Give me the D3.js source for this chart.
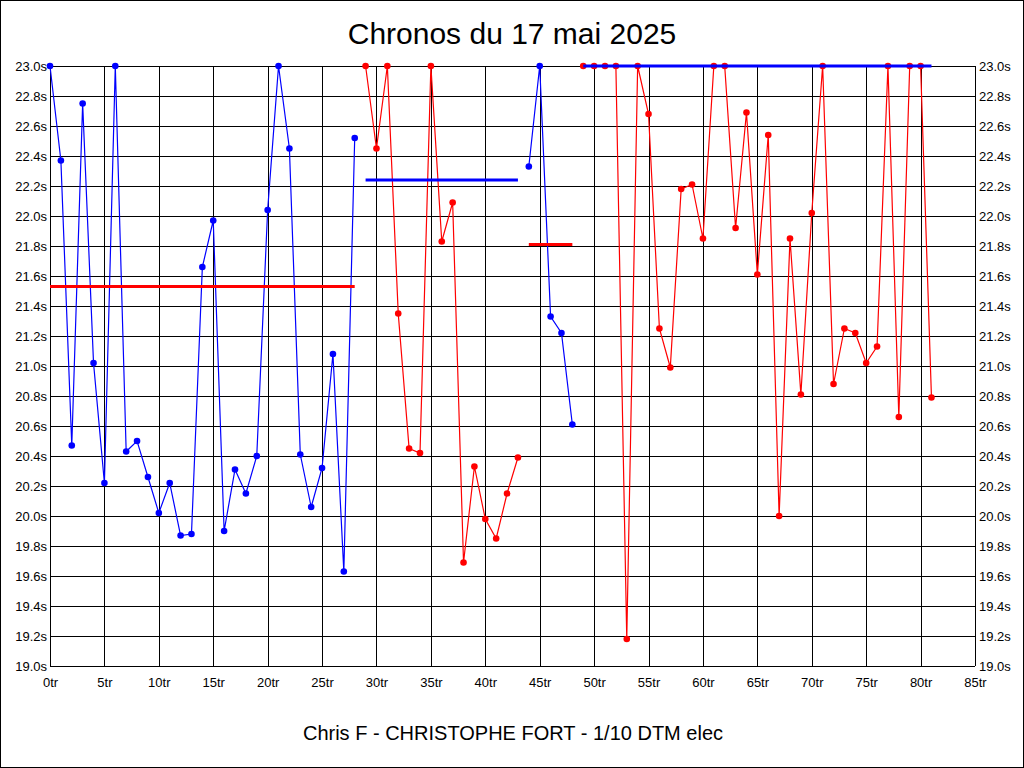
<!DOCTYPE html>
<html><head><meta charset="utf-8">
<script src="https://cdn.jsdelivr.net/npm/d3@7/dist/d3.min.js"></script>
<style>body{margin:0;background:#fff}svg{display:block}text{font-family:"Liberation Sans",Arial,sans-serif}</style>
</head><body>
<svg id="c" width="1024" height="768"></svg>
<script>
// Data
const title = "Chronos du 17 mai 2025";
const subtitle = "Chris F - CHRISTOPHE FORT - 1/10 DTM elec";
const xTicks = [0,5,10,15,20,25,30,35,40,45,50,55,60,65,70,75,80,85];
const yTicks = [19.0,19.2,19.4,19.6,19.8,20.0,20.2,20.4,20.6,20.8,21.0,21.2,21.4,21.6,21.8,22.0,22.2,22.4,22.6,22.8,23.0];
// Segment 1 (blue), laps 0..28
const blue1Start = 0;
const blue1 = [23.0,22.37,20.47,22.75,21.02,20.22,23.0,20.43,20.50,20.26,20.02,20.22,19.87,19.88,21.66,21.97,19.90,20.31,20.15,20.40,22.04,23.0,22.45,20.41,20.06,20.32,21.08,19.63,22.52];
const blue1Mean = 21.53;
// Segment 2 (red), laps 29..43
const red1Start = 29;
const red1 = [23.0,22.45,23.0,21.35,20.45,20.42,23.0,21.83,22.09,19.69,20.33,19.98,19.85,20.15,20.39];
const red1Mean = 22.24;
// Segment 3 (blue), laps 44..48
const blue2Start = 44;
const blue2 = [22.33,23.0,21.33,21.22,20.61];
const blue2Mean = 21.81;
// Segment 4 (red), laps 49..81
const red2Start = 49;
const red2 = [23.0,23.0,23.0,23.0,19.18,23.0,22.68,21.25,20.99,22.18,22.21,21.85,23.0,23.0,21.92,22.69,21.61,22.54,20.00,21.85,20.81,22.02,23.0,20.88,21.25,21.22,21.02,21.13,23.0,20.66,23.0,23.0,20.79];
const red2Mean = 23.0;

const svg = d3.select("#c");
const W = 1024, H = 768;
const x = d3.scaleLinear().domain([0,85]).range([50,975]);
const y = d3.scaleLinear().domain([19,23]).range([666,66]);

svg.append("rect").attr("x",0.5).attr("y",0.5).attr("width",W-1).attr("height",H-1)
  .attr("fill","#fff").attr("stroke","#000");

// grid
const g = svg.append("g").attr("shape-rendering","crispEdges");
g.selectAll(".hg").data(yTicks).enter().append("line")
  .attr("x1",x(0)).attr("x2",x(85)).attr("y1",d=>Math.round(y(d))+0.5).attr("y2",d=>Math.round(y(d))+0.5)
  .attr("stroke","#000").attr("stroke-width",1);
g.selectAll(".vg").data(xTicks).enter().append("line")
  .attr("x1",d=>Math.round(x(d))+0.5).attr("x2",d=>Math.round(x(d))+0.5).attr("y1",y(23)).attr("y2",y(19))
  .attr("stroke","#000").attr("stroke-width",1);

// axis labels
const yFmt = d=>d3.format(".1f")(d)+"s";
svg.append("g").attr("transform",`translate(${x(0)-3},0)`)
  .call(d3.axisLeft(y).tickValues(yTicks).tickFormat(yFmt).tickSize(0).tickPadding(0))
  .call(a=>{a.select(".domain").remove();a.selectAll("text").attr("font-size",13).attr("font-family","Liberation Sans, Arial").attr("fill","#000");});
svg.append("g").attr("transform",`translate(${x(85)+4},0)`)
  .call(d3.axisRight(y).tickValues(yTicks).tickFormat(yFmt).tickSize(0).tickPadding(0))
  .call(a=>{a.select(".domain").remove();a.selectAll("text").attr("font-size",13).attr("font-family","Liberation Sans, Arial").attr("fill","#000");});
svg.append("g").attr("transform",`translate(0,${y(19)+12})`)
  .call(d3.axisBottom(x).tickValues(xTicks).tickFormat(d=>d+"tr").tickSize(0).tickPadding(0))
  .call(a=>{a.select(".domain").remove();a.selectAll("text").attr("font-size",13).attr("font-family","Liberation Sans, Arial").attr("fill","#000");});

// title
svg.append("text").attr("x",512).attr("y",44).attr("text-anchor","middle")
  .attr("font-size",30).attr("fill","#000").text(title);
svg.append("text").attr("x",513).attr("y",740).attr("text-anchor","middle")
  .attr("font-size",20).attr("fill","#000").text(subtitle);

function drawSeries(vals, start, color){
  const pts = vals.map((v,i)=>({lap:start+i, v}));
  const line = d3.line().x(d=>x(d.lap)).y(d=>y(d.v));
  svg.append("path").datum(pts).attr("d",line).attr("fill","none")
    .attr("stroke",color).attr("stroke-width",1.2);
  svg.append("g").selectAll("circle").data(pts).enter().append("circle")
    .attr("cx",d=>x(d.lap)).attr("cy",d=>y(d.v)).attr("r",3.3).attr("fill",color);
}
function drawMean(m, start, n, color){
  svg.append("line").attr("x1",x(start)).attr("x2",x(start+n-1))
    .attr("y1",y(m)).attr("y2",y(m)).attr("stroke",color).attr("stroke-width",3);
}
drawSeries(blue1, blue1Start, "#0000ff");
drawSeries(red1, red1Start, "#ff0000");
drawSeries(blue2, blue2Start, "#0000ff");
drawSeries(red2, red2Start, "#ff0000");
drawMean(blue1Mean, blue1Start, blue1.length, "#ff0000");
drawMean(red1Mean, red1Start, red1.length, "#0000ff");
drawMean(blue2Mean, blue2Start, blue2.length, "#ff0000");
drawMean(red2Mean, red2Start, red2.length, "#0000ff");
</script>
</body></html>
